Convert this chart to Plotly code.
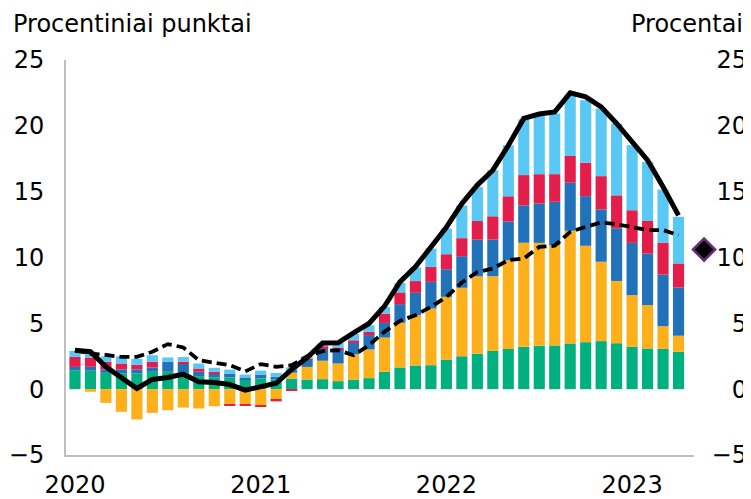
import plotly.graph_objects as go

months = [f"{y}-{m:02d}" for y in (2020, 2021, 2022, 2023) for m in range(1, 13)][:40]

green = [1.44, 1.40, 1.24, 1.20, 1.20, 1.32, 1.32, 1.24, 0.99, 0.89, 0.89, 0.74,
         0.81, 0.73, 0.80, 0.73, 0.76, 0.61, 0.73, 0.84, 1.32, 1.65, 1.80, 1.82,
         2.25, 2.50, 2.70, 2.91, 3.06, 3.22, 3.29, 3.32, 3.47, 3.57, 3.65, 3.49,
         3.22, 3.09, 3.06, 2.84]
orange = [0.00, -0.20, -1.04, -1.72, -2.30, -1.80, -1.60, -1.40, -1.47, -1.30, -1.20, -1.14,
          -1.22, -0.78, 0.45, 0.96, 1.40, 1.34, 1.92, 2.18, 2.60, 3.39, 3.82, 4.30,
          4.76, 5.20, 5.87, 5.67, 6.73, 7.90, 7.82, 7.62, 8.56, 7.32, 6.03, 4.73,
          3.92, 3.29, 1.72, 1.22]
dblue = [0.25, 0.30, 0.25, 0.30, 0.30, 0.33, 0.76, 0.70, 0.33, 0.30, 0.30, 0.15,
         0.30, 0.20, 0.20, 0.55, 0.95, 1.09, 0.86, 1.09, 1.11, 1.42, 1.70, 2.03,
         2.10, 2.40, 2.78, 2.78, 2.94, 2.84, 2.99, 3.29, 3.65, 3.77, 3.97, 4.00,
         3.97, 3.92, 3.92, 3.67]
red = [0.76, 0.70, 0.60, 0.45, 0.35, 0.43, 0.00, 0.15, 0.25, 0.13, -0.08, -0.13,
       -0.13, -0.15, -0.13, 0.05, 0.15, 0.12, 0.20, 0.25, 0.71, 0.89, 0.89, 1.14,
       1.14, 1.37, 1.42, 1.77, 1.92, 2.30, 2.23, 2.10, 2.03, 2.53, 2.53, 2.50,
       2.48, 2.48, 2.41, 1.82]
lblue = [0.46, 0.45, 0.40, 0.55, 0.45, 0.50, 0.33, 0.35, 0.38, 0.30, 0.30, 0.22,
         0.30, 0.30, 0.20, 0.20, 0.20, 0.35, 0.50, 0.50, 0.50, 0.73, 1.04, 1.39,
         1.95, 2.48, 2.58, 3.49, 3.87, 4.23, 4.48, 4.60, 4.63, 4.76, 5.14, 5.44,
         4.94, 4.48, 4.05, 3.54]

headline = [2.96, 2.85, 1.70, 0.90, 0.05, 0.74, 0.89, 1.14, 0.56, 0.50, 0.35, -0.08,
            0.18, 0.45, 1.50, 2.40, 3.50, 3.52, 4.28, 4.99, 6.30, 8.15, 9.29, 10.80,
            12.30, 14.10, 15.50, 16.63, 18.50, 20.56, 20.90, 21.06, 22.50, 22.20, 21.44, 20.18,
            18.78, 17.39, 15.37, 13.20]
core = [2.96, 2.70, 2.60, 2.45, 2.45, 2.84, 3.42, 3.17, 2.20, 2.00, 1.82, 1.35,
        1.90, 1.70, 1.82, 2.50, 2.89, 2.96, 2.58, 3.34, 4.36, 5.19, 5.62, 6.25,
        7.00, 8.10, 8.90, 9.16, 9.80, 9.92, 10.80, 10.89, 11.95, 12.33, 12.66, 12.53,
        12.33, 12.08, 12.08, 11.70]

forecast_value = [10.6]
forecast_pos = [40.65]

year_ticks = ["2020", "2021", "2022", "2023"]

x = list(range(len(months)))
tickvals = [i for i, m in enumerate(months) if m.endswith("-01")]

FONT = "DejaVu Sans"
FS = 24

W, H = 751, 491
ML, MR, MT, MB = 58, 10, 52, 44
paper_w = W - ML - MR
x_lo, x_hi = -0.58, 40.0
plot_w = 628
px_per_unit = plot_w / (x_hi - x_lo)
x2_hi = x_lo + paper_w / px_per_unit

fig = go.Figure()
series = [
    (green, "#00B07F"),
    (orange, "#FDB01A"),
    (dblue, "#2272B9"),
    (red, "#E41E4B"),
    (lblue, "#5AC8F5"),
]
for vals, col in series:
    fig.add_trace(go.Bar(x=x, y=vals, marker=dict(color=col, line=dict(width=0)),
                         showlegend=False, hoverinfo="skip"))

fig.add_trace(go.Scatter(x=x, y=headline, mode="lines", yaxis="y2",
                         line=dict(color="black", width=5), showlegend=False))
fig.add_trace(go.Scatter(x=x, y=core, mode="lines", yaxis="y2",
                         line=dict(color="black", width=3.8, dash="10px,5px"),
                         showlegend=False))
fig.add_trace(go.Scatter(x=forecast_pos, y=forecast_value, mode="markers",
                         xaxis="x2", yaxis="y",
                         marker=dict(symbol="diamond", size=17, color="black",
                                     line=dict(color="#6B2D7B", width=2.5)),
                         cliponaxis=False, showlegend=False))

fig.update_layout(
    template="none",
    width=W, height=H,
    margin=dict(l=ML, r=MR, t=MT, b=MB),
    paper_bgcolor="white", plot_bgcolor="rgba(0,0,0,0)",
    barmode="relative", bargap=0.28,
    font=dict(family=FONT, size=FS, color="black"),
    xaxis=dict(domain=[0, plot_w / paper_w], range=[x_lo, x_hi], tickvals=tickvals,
               ticktext=year_ticks, showline=True, linecolor="#BFBFBF", linewidth=2,
               showgrid=False, zeroline=False, ticks="", automargin=False,
               ticklabelstandoff=7, tickfont=dict(family=FONT, size=FS)),
    xaxis2=dict(domain=[0, 1], range=[x_lo, x2_hi], anchor="y", visible=False,
                showgrid=False, zeroline=False, automargin=False),
    yaxis=dict(range=[-5, 25], dtick=5, tick0=0, showline=True, linecolor="#BFBFBF",
               linewidth=2, showgrid=False, zeroline=False, ticks="", automargin=False,
               ticklabelstandoff=15, tickfont=dict(family=FONT, size=FS)),
    yaxis2=dict(range=[-5, 25], dtick=5, tick0=0, overlaying="y", side="left",
                anchor="free", position=(paper_w - 2) / paper_w, showline=False,
                showgrid=False, zeroline=False, ticks="", automargin=False,
                tickfont=dict(family=FONT, size=FS)),
    annotations=[
        dict(text="Procentiniai punktai", xref="paper", yref="paper",
             x=-0.079 * 690 / paper_w, y=1.0911, xanchor="left", yanchor="middle",
             showarrow=False, font=dict(family=FONT, size=FS, color="black")),
        dict(text="Procentai", xref="paper", yref="paper",
             x=(737 - ML) / paper_w, y=1.0911, xanchor="right", yanchor="middle",
             showarrow=False, font=dict(family=FONT, size=FS, color="black")),
    ],
)

fig.write_html("out.html")
